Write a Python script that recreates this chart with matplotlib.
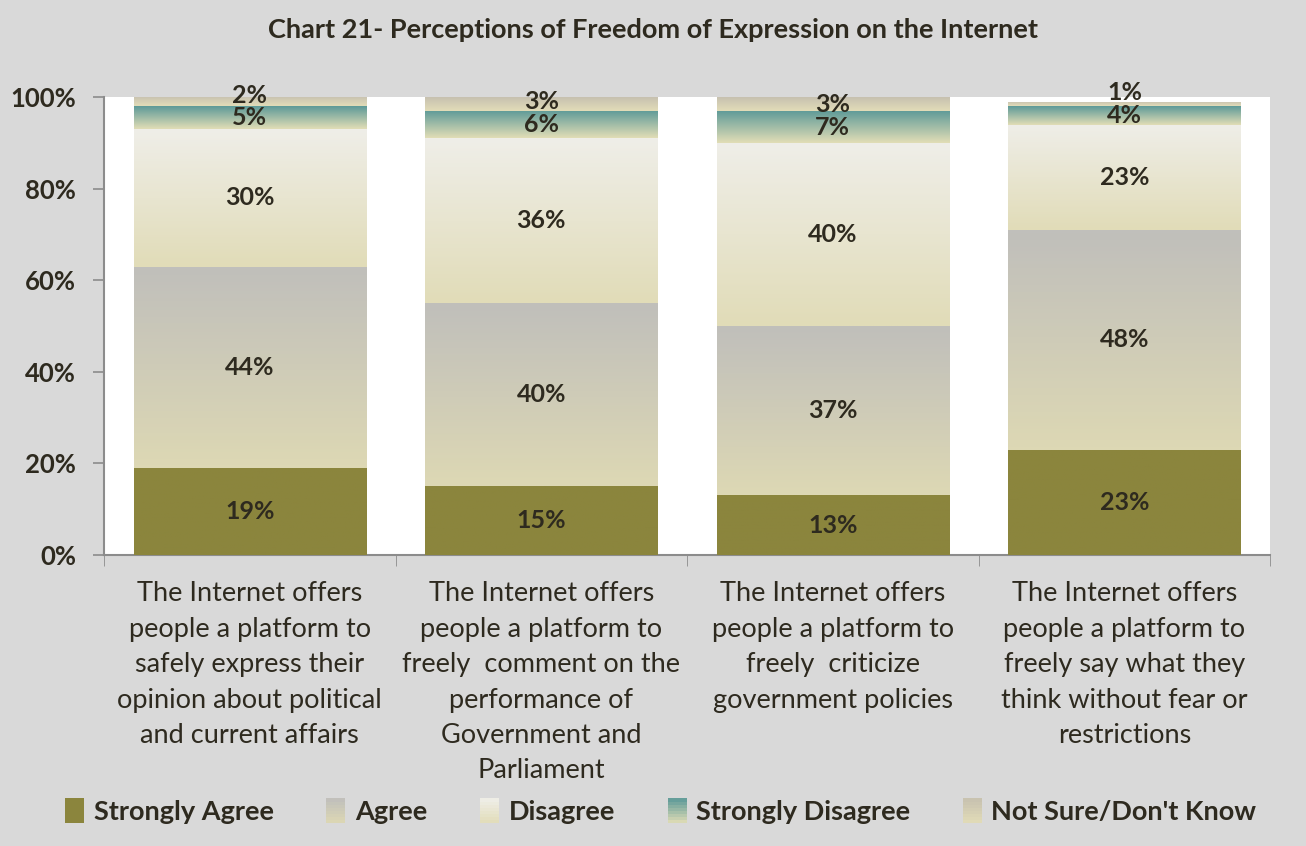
import numpy as np
import matplotlib.pyplot as plt
from matplotlib.colors import LinearSegmentedColormap
from matplotlib.legend_handler import HandlerBase
from matplotlib.patches import Rectangle

plt.rcParams['font.family'] = ['Lato', 'DejaVu Sans']

categories = [
    'The Internet offers\npeople a platform to\nsafely express their\nopinion about political\nand current affairs',
    'The Internet offers\npeople a platform to\nfreely  comment on the\nperformance of\nGovernment and\nParliament',
    'The Internet offers\npeople a platform to\nfreely  criticize\ngovernment policies',
    'The Internet offers\npeople a platform to\nfreely say what they\nthink without fear or\nrestrictions',
]
series_names = ['Strongly Agree', 'Agree', 'Disagree', 'Strongly Disagree', "Not Sure/Don't Know"]
strongly_agree = [19, 15, 13, 23]
agree = [44, 40, 37, 48]
disagree = [30, 36, 40, 23]
strongly_disagree = [5, 6, 7, 4]
not_sure = [2, 3, 3, 1]

# top colour, bottom colour for each series
grads = [
    ('#8b853d', '#8b853d'),
    ('#c0bfbb', '#ddd8b4'),
    ('#efeee8', '#e1dcb8'),
    ('#5e9a98', '#e1ddb6'),
    ('#c7c1b0', '#e2dcb8'),
]
txt = '#2e2a1f'
bg = '#d9d9d9'

fig = plt.figure(figsize=(13.06, 8.46), dpi=100, facecolor=bg)
ax = fig.add_axes([0.0796, 0.344, 0.893, 0.541])
ax.set_facecolor('white')

x = np.arange(len(categories))
width = 0.796
bottom = np.zeros(len(categories))
prev_label = np.full(len(categories), -100.0)
all_series = [strongly_agree, agree, disagree, strongly_disagree, not_sure]

for vals, name, (c_top, c_bot) in zip(all_series, series_names, grads):
    vals = np.array(vals, dtype=float)
    bars = ax.bar(x, vals, width, bottom=bottom, color=c_bot, label=name, zorder=2)
    cmap = LinearSegmentedColormap.from_list(name, [c_bot, c_top])
    grad = np.linspace(0, 1, 64).reshape(-1, 1)
    for i, (b, v) in enumerate(zip(bars, vals)):
        bx, by, bw, bh = b.get_x(), b.get_y(), b.get_width(), b.get_height()
        im = ax.imshow(grad, cmap=cmap, origin='lower', aspect='auto',
                       extent=[bx, bx + bw, by, by + bh], zorder=3)
        im.set_clip_path(b)
        # keep small labels from sitting on top of each other
        ly = max(by + bh / 2, prev_label[i] + 5.0)
        prev_label[i] = ly
        ax.text(bx + bw / 2, ly, f'{int(v)}%', ha='center', va='center',
                fontsize=18, fontweight='bold', color=txt, zorder=5, clip_on=False)
    bottom += vals

ax.set_xlim(-0.5, len(categories) - 0.5)
ax.set_ylim(0, 100)
ax.set_yticks(np.arange(0, 101, 20))
ax.set_yticklabels([f'{v}%' for v in range(0, 101, 20)], fontsize=18.5, fontweight='bold', color=txt)
ax.set_xticks(x)
ax.set_xticklabels(categories, fontsize=19.5, color=txt, linespacing=1.52)
ax.tick_params(axis='x', length=0, pad=19)
ax.set_xticks(np.arange(-0.5, len(categories), 1), minor=True)
ax.tick_params(axis='x', which='minor', length=8, color='#8c8c8c', direction='out')
ax.tick_params(axis='y', length=8, color='#8c8c8c', width=1.2, pad=12)
for s in ['top', 'right']:
    ax.spines[s].set_visible(False)
for s in ['left', 'bottom']:
    ax.spines[s].set_color('#8c8c8c')
    ax.spines[s].set_linewidth(1.5)

fig.text(0.5, 0.965, 'Chart 21- Perceptions of Freedom of Expression on the Internet',
         ha='center', va='center', fontsize=19.5, fontweight='bold', color=txt)


class GradHandler(HandlerBase):
    def __init__(self, top, bot):
        super().__init__()
        self.top, self.bot = top, bot

    def create_artists(self, legend, orig_handle, xdescent, ydescent, width, height, fontsize, trans):
        cmap = LinearSegmentedColormap.from_list('h', [self.bot, self.top])
        n = 8
        arts = []
        for i in range(n):
            r = Rectangle((-xdescent, -ydescent + height * i / n), width, height / n + 0.3,
                          facecolor=cmap((i + 0.5) / n), edgecolor='none', transform=trans)
            arts.append(r)
        return arts


handles = [Rectangle((0, 0), 1, 1) for _ in series_names]
hmap = {h: GradHandler(t, b) for h, (t, b) in zip(handles, grads)}
fig.legend(handles, series_names, handler_map=hmap, loc='center', bbox_to_anchor=(0.506, 0.041),
           ncol=5, frameon=False, prop={'size': 19.5, 'weight': 'bold'},
           handlelength=0.7, handleheight=1.0, handletextpad=0.35, columnspacing=1.95,
           labelcolor=txt)

fig.savefig('out.png', dpi=100, facecolor=bg)
